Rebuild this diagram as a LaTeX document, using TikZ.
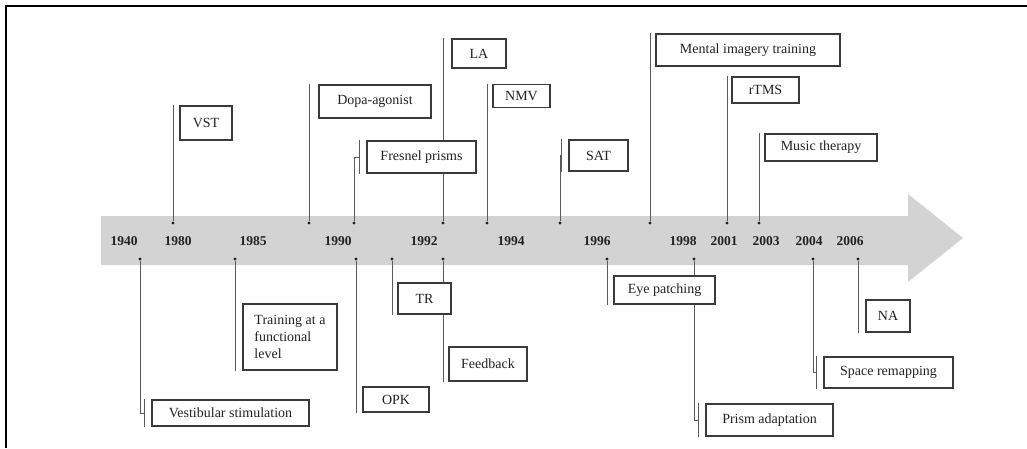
\documentclass[tikz,border=0pt]{standalone}
\usepackage{fontspec}
\setmainfont{Liberation Serif}
\usetikzlibrary{backgrounds}
\definecolor{bandc}{HTML}{D3D3D3}
\definecolor{boxc}{HTML}{3A3A3A}
\definecolor{linec}{HTML}{5A5A5A}
\definecolor{dotc}{HTML}{222222}
\definecolor{txt}{HTML}{222222}
\begin{document}
\begin{tikzpicture}[x=1pt,y=-1pt,
  box/.style={draw=boxc, line width=1.1pt, fill=white, inner sep=0pt, font=\fontsize{14}{17}\selectfont, text=txt},
  conn/.style={draw=linec, line width=0.9pt},
  dot/.style={circle, fill=dotc, inner sep=0pt, minimum size=3.4pt},
  yr/.style={font=\fontsize{13.5}{16}\selectfont\bfseries, text=txt, inner sep=0pt}]
\useasboundingbox (0,0) rectangle (1027,448);
% frame
\draw[line width=2pt, black] (6,448) -- (6,6) -- (1027,6);

% dots above
\node[dot] (dvst) at (173,223) {};
\node[dot] (ddopa) at (309,223) {};
\node[dot] (dfres) at (354,223) {};
\node[dot] (dla) at (443,223) {};
\node[dot] (dnmv) at (487,223) {};
\node[dot] (dsat) at (560,223) {};
\node[dot] (dment) at (650,223) {};
\node[dot] (drtms) at (727,223) {};
\node[dot] (dmus) at (759,223) {};
% dots below
\node[dot] (dvest) at (140,259) {};
\node[dot] (dtrain) at (235,259) {};
\node[dot] (dopk) at (356,259) {};
\node[dot] (dtr) at (392,259) {};
\node[dot] (dfeed) at (443,259) {};
\node[dot] (deye) at (607,259) {};
\node[dot] (dprism) at (694,259) {};
\node[dot] (dspace) at (813,259) {};
\node[dot] (dna) at (858,259) {};

% years
\node[yr] (y1940) at (124,241) {1940};
\node[yr] (y1980) at (178,241) {1980};
\node[yr] (y1985) at (253,241) {1985};
\node[yr] (y1990) at (338,241) {1990};
\node[yr] (y1992) at (424,241) {1992};
\node[yr] (y1994) at (511,241) {1994};
\node[yr] (y1996) at (597,241) {1996};
\node[yr] (y1998) at (683,241) {1998};
\node[yr] (y2001) at (724,241) {2001};
\node[yr] (y2003) at (766,241) {2003};
\node[yr] (y2004) at (809,241) {2004};
\node[yr] (y2006) at (850,241) {2006};

% boxes above
\node[box, minimum width=52pt, minimum height=34pt] (vst) at (206,123) {VST};
\node[box, minimum width=112pt, minimum height=33pt] (dopa) at (375,101.5) {Dopa-agonist};
\node[box, minimum width=54pt, minimum height=29pt] (la) at (479,53.5) {LA};
\node[box, minimum width=109pt, minimum height=32pt] (fres) at (421.5,157) {Fresnel prisms};
\node[box, minimum width=57pt, minimum height=23pt] (nmv) at (521.5,96) {NMV};
\node[box, minimum width=59pt, minimum height=31pt] (sat) at (598.5,155.5) {SAT};
\node[box, minimum width=184pt, minimum height=32pt] (ment) at (748,50) {Mental imagery training};
\node[box, minimum width=67pt, minimum height=26pt] (rtms) at (765.5,90) {rTMS};
\node[box, minimum width=112pt, minimum height=27pt] (mus) at (821,147.5) {Music therapy};
% boxes below
\node[box, minimum width=157pt, minimum height=26pt] (vest) at (230.5,413) {Vestibular stimulation};
\node[box, minimum width=94pt, minimum height=66pt, align=left] (train) at (290,337) {Training at a\\functional\\level};
\node[box, minimum width=53pt, minimum height=31pt] (tr) at (424.5,298.5) {TR};
\node[box, minimum width=78pt, minimum height=34pt] (feed) at (488,364) {Feedback};
\node[box, minimum width=66pt, minimum height=25pt] (opk) at (396,399.5) {OPK};
\node[box, minimum width=101pt, minimum height=28pt] (eye) at (664.5,290) {Eye patching};
\node[box, minimum width=127pt, minimum height=32pt] (prism) at (769.5,420) {Prism adaptation};
\node[box, minimum width=44pt, minimum height=32pt] (na) at (888,316) {NA};
\node[box, minimum width=129pt, minimum height=31pt] (space) at (888.5,372.5) {Space remapping};

\begin{scope}[on background layer]
  \fill[bandc] (101,216) -- (908,216) -- (908,194) -- (963,238) -- (908,282) -- (908,265) -- (101,265) -- cycle;
  % straight connectors above
  \foreach \d/\b in {dvst/vst, ddopa/dopa, dla/la, dnmv/nmv, dment/ment, drtms/rtms, dmus/mus}
    \draw[conn] (\d) -- (\d |- \b.north);
  % straight connectors below
  \foreach \d/\b in {dtrain/train, dopk/opk, dtr/tr, dfeed/feed, deye/eye, dna/na}
    \draw[conn] (\d) -- (\d |- \b.south);
  % jogged connectors
  \foreach \d/\b in {dfres/fres, dsat/sat, dvest/vest, dprism/prism, dspace/space} {
    \draw[conn] (\d) |- ([xshift=-7pt]\b.west);
    \draw[conn] ([xshift=-7pt]\b.north west) -- ([xshift=-7pt]\b.south west);
  }
\end{scope}
\end{tikzpicture}
\end{document}
